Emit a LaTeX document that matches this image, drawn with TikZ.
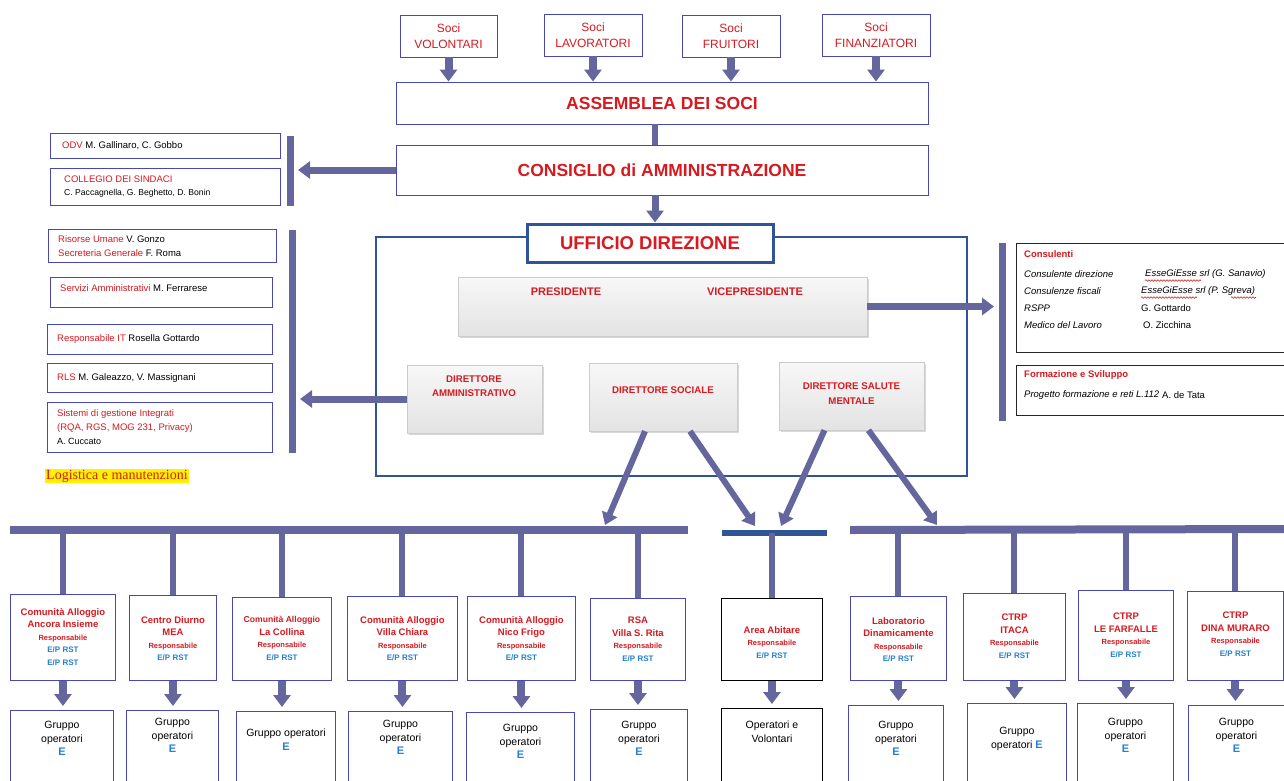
\documentclass[tikz,border=0pt]{standalone}
\usepackage{fontspec}
\setmainfont{Liberation Sans}
\newfontfamily\serifrm{Liberation Serif}
\usepackage{xcolor}
\usepackage{tikz}
\usetikzlibrary{positioning,arrows.meta,shadows,decorations.pathmorphing}

\definecolor{linkcol}{RGB}{102,102,158}
\definecolor{boxblue}{RGB}{72,72,178}
\definecolor{darkblue}{RGB}{47,85,151}
\definecolor{titlered}{RGB}{214,26,32}
\definecolor{textblue}{RGB}{38,128,206}
\newcommand{\fsz}[2]{\fontsize{#1}{#2}\selectfont}
\newcommand{\redtx}[1]{\textcolor{titlered}{#1}}
\newcommand{\respl}{{\fsz{7.5}{10}Responsabile}}
\newcommand{\eprst}{{\color{textblue}\fsz{8}{10}E/P RST}}
\newcommand{\bigE}{{\color{textblue}\bfseries\fsz{11}{12}E}}

\tikzset{
	socibox/.style={draw=boxblue, line width=0.9pt, fill=white, align=center, text=titlered, font=\fsz{12}{15.5}, minimum height=42, inner sep=1pt},
	mainbox/.style={draw=boxblue, line width=0.9pt, fill=white, text=titlered, font=\bfseries\fsz{17.5}{20}, minimum width=532},
	staffbox/.style={draw=boxblue, line width=0.9pt, fill=white, anchor=north west, inner sep=0pt},
	stafftext/.style={anchor=west, align=left, font=\fsz{9.5}{14}, inner sep=0pt},
	consbox/.style={draw=black!85, line width=0.9pt, fill=white, anchor=north west, inner sep=0pt},
	constext/.style={anchor=west, font=\itshape\fsz{9.5}{12}, inner sep=0pt},
	greybox/.style={draw=gray!40, top color=gray!6, bottom color=gray!22, drop shadow={shadow xshift=2pt, shadow yshift=-2pt, fill=gray!60}, inner sep=0pt},
	greytext/.style={text=titlered, font=\bfseries\fsz{9.7}{14.5}, align=center},
	unitbox/.style={draw=boxblue, line width=0.9pt, fill=white, anchor=north west, inner sep=0pt},
	unittext/.style={text=titlered, font=\bfseries\fsz{9.5}{12.5}, align=center, inner sep=0pt},
	optext/.style={font=\fsz{10.5}{13.5}, align=center, inner sep=0pt},
	linkbar/.style={draw=linkcol, line width=7pt},
	linkarrow/.style={linkbar, -{Triangle[length=12pt,width=17pt]}},
}

\begin{document}
\begin{tikzpicture}[x=1pt, y=-1pt]
	\useasboundingbox (0,0) rectangle (1284,780);
	\clip (0,0) rectangle (1284,780);
	
	% Soci
	\node[socibox, minimum width=97] (sv) at (448.5,36) {Soci\\VOLONTARI};
	\node[socibox, minimum width=98] (sl) at (593,35) {Soci\\LAVORATORI};
	\node[socibox, minimum width=98] (sf) at (731,36) {Soci\\FRUITORI};
	\node[socibox, minimum width=108] (sfi) at (876,35) {Soci\\FINANZIATORI};
	
	% Assemblea e consiglio
	\node[mainbox, minimum height=42] (ass) at (662,103) {ASSEMBLEA DEI SOCI};
	\node[mainbox, minimum height=50] (cda) at (662,170) {CONSIGLIO di AMMINISTRAZIONE};
	
	\draw[linkarrow, line width=8pt] (sv.south) -- (sv.south |- ass.north);
	\draw[linkarrow, line width=8pt] (sl.south) -- (sl.south |- ass.north);
	\draw[linkarrow, line width=8pt] (sf.south) -- (sf.south |- ass.north);
	\draw[linkarrow, line width=8pt] (sfi.south) -- (sfi.south |- ass.north);
	\draw[linkbar, line width=6pt] ([xshift=-7pt]ass.south) -- ([xshift=-7pt]cda.north);
	
	% Organi di controllo
	\node[staffbox, minimum width=230, minimum height=25] (odv) at (50,133) {};
	\node[stafftext, right=12pt of odv.west] (odvt) {\redtx{ODV} M. Gallinaro, C. Gobbo};
	\node[staffbox, minimum width=230, minimum height=37] (coll) at (50,168) {};
	\node[stafftext, font=\fsz{9.5}{13}, right=14pt of coll.west] (collt) {\redtx{COLLEGIO DEI SINDACI}\\{\fsz{8.6}{11}C. Paccagnella, G. Beghetto, D. Bonin}};
	\coordinate (b1t) at (290,136);
	\coordinate (b1b) at (290,206);
	\draw[linkbar] (b1t) -- (b1b);
	\draw[linkarrow] (cda.west) -- ([xshift=8pt]cda.west -| b1t);
	
	% Ufficio direzione
	\node[draw=darkblue, line width=2.5pt, minimum width=591, minimum height=239, inner sep=0pt] (uffarea) at (671.5,356.5) {};
	\node[draw=darkblue, line width=3pt, fill=white, minimum width=246, minimum height=38, text=titlered, font=\bfseries\fsz{18.5}{20}] (uff) at (650,243) {UFFICIO DIREZIONE};
	\draw[linkarrow] ([xshift=-7pt]cda.south) -- ([xshift=5pt]uff.north);
	
	\node[greybox, minimum width=409, minimum height=59] (pres) at (662.5,306.5) {};
	\node[greytext, font=\bfseries\fsz{11}{13}] (prest) at (566,292) {PRESIDENTE};
	\node[greytext, font=\bfseries\fsz{11}{13}] (vicet) at (755,292) {VICEPRESIDENTE};
	\node[greybox, minimum width=135, minimum height=68] (damm) at (474.5,399) {};
	\node[greytext] (dammt) at (474,386) {DIRETTORE\\AMMINISTRATIVO};
	\node[greybox, minimum width=148, minimum height=68] (dsoc) at (663,397) {};
	\node[greytext] (dsoct) at (663,390) {DIRETTORE SOCIALE};
	\node[greybox, minimum width=145, minimum height=68] (dsal) at (851.5,396) {};
	\node[greytext] (dsalt) at (851.5,393.5) {DIRETTORE SALUTE\\MENTALE};
	
	% Staff amministrativo
	\node[staffbox, minimum width=228, minimum height=33] (risu) at (48,229) {};
	\node[stafftext, right=10pt of risu.west] (risut) {\redtx{Risorse Umane} V. Gonzo\\\redtx{Secreteria Generale} F. Roma};
	\node[staffbox, minimum width=222, minimum height=30] (serv) at (50,277) {};
	\node[stafftext] (servt) at (60,288) {\redtx{Servizi Amministrativi} M. Ferrarese};
	\node[staffbox, minimum width=225, minimum height=30] (resit) at (47,324) {};
	\node[stafftext, right=10pt of resit.west] (resitt) {\redtx{Responsabile IT} Rosella Gottardo};
	\node[staffbox, minimum width=225, minimum height=29] (rls) at (47,363) {};
	\node[stafftext, right=10pt of rls.west] (rlst) {\redtx{RLS} M. Galeazzo, V. Massignani};
	\node[staffbox, minimum width=225, minimum height=50] (sist) at (47,402) {};
	\node[stafftext, right=10pt of sist.west] (sistt) {\redtx{Sistemi di gestione Integrati}\\\redtx{(RQA, RGS, MOG 231, Privacy)}\\{\fsz{9}{11}A. Cuccato}};
	\node[anchor=west, fill=yellow, text=titlered, font=\serifrm\fsz{14}{16}, inner sep=1pt] (logi) at (45,476) {Logistica e manutenzioni};
	\coordinate (b2t) at (292,230);
	\coordinate (b2b) at (292,453);
	\draw[linkbar] (b2t) -- (b2b);
	\draw[linkarrow] (damm.west) -- ([xshift=8pt]damm.west -| b2t);
	
	% Consulenti
	\node[consbox, minimum width=280, minimum height=109] (cons) at (1016,243) {};
	\node[constext, font=\bfseries\fsz{9.5}{12}, text=titlered] (const) at (1024,254) {Consulenti};
	\node[constext] (c1a) at (1024,274) {Consulente direzione};
	\node[constext] (c1b) at (1145,274) {EsseGiEsse srl (G. Sanavio)};
	\node[constext] (c2a) at (1024,291) {Consulenze fiscali};
	\node[constext] (c2b) at (1141,291) {EsseGiEsse srl (P. Sgreva)};
	\node[constext] (c3a) at (1024,308) {RSPP};
	\node[constext, font=\fsz{9.5}{12}] (c3b) at (1141,308) {G. Gottardo};
	\node[constext] (c4a) at (1024,325) {Medico del Lavoro};
	\node[constext, font=\fsz{9.5}{12}] (c4b) at (1143,325) {O. Zicchina};
	\draw[titlered, line width=0.6pt, decorate, decoration={snake, amplitude=0.8pt, segment length=3pt}] (1145,280.5) -- (1201,280.5);
	\draw[titlered, line width=0.6pt, decorate, decoration={snake, amplitude=0.8pt, segment length=3pt}] (1141,297.5) -- (1197,297.5);
	\draw[titlered, line width=0.6pt, decorate, decoration={snake, amplitude=0.8pt, segment length=3pt}] (1231,297.5) -- (1256,297.5);
	\node[consbox, minimum width=280, minimum height=50] (form) at (1016,365) {};
	\node[constext, font=\bfseries\fsz{9.5}{12}, text=titlered] (formt) at (1024,375) {Formazione e Sviluppo};
	\node[constext] (f1a) at (1024,395) {Progetto formazione e reti L.112};
	\node[constext, font=\fsz{9.5}{12}] (f1b) at (1162,395) {A. de Tata};
	\coordinate (b3t) at (1002,243);
	\coordinate (b3b) at (1002,421);
	\draw[linkbar] (b3t) -- (b3b);
	\draw[linkarrow] (pres.east) -- ([xshift=-8pt]pres.east -| b3t);
	
	% Barre dei servizi
	\coordinate (barL) at (10,530);
	\coordinate (barLe) at (688,530);
	\draw[linkbar, line width=8pt] (barL) -- (barLe);
	\coordinate (barM) at (722,533);
	\coordinate (barMe) at (827,533);
	\draw[linkbar, draw=darkblue, line width=6pt] (barM) -- (barMe);
	\coordinate (barR) at (850,530);
	\coordinate (barRe) at (1290,529);
	\draw[linkbar, line width=8pt] (barR) -- (barRe);
	
	\coordinate (tipA) at (605,525);
	\coordinate (tipB) at (755,526);
	\coordinate (tipC) at (781,526);
	\coordinate (tipD) at (937,525);
	\draw[linkarrow, line width=6pt, -{Triangle[length=12pt,width=16pt]}] ([xshift=-18pt]dsoc.south) -- (tipA);
	\draw[linkarrow, line width=6pt, -{Triangle[length=12pt,width=16pt]}] ([xshift=27pt]dsoc.south) -- (tipB);
	\draw[linkarrow, line width=6pt, -{Triangle[length=12pt,width=16pt]}] ([xshift=-27pt]dsal.south) -- (tipC);
	\draw[linkarrow, line width=6pt, -{Triangle[length=12pt,width=16pt]}] ([xshift=17pt]dsal.south) -- (tipD);
	
	% Servizi
	\node[unitbox, minimum width=105, minimum height=86] (ca1) at (10,594) {};
	\node[unittext, below=14pt of ca1.north] (ca1t) {Comunità Alloggio\\Ancora Insieme\\\respl\\\eprst\\\eprst};
	\node[unitbox, minimum width=87, minimum height=85] (cdm) at (129,595) {};
	\node[unittext, below=21pt of cdm.north] (cdmt) {Centro Diurno\\MEA\\\respl\\\eprst};
	\node[unitbox, minimum width=99, minimum height=83] (ca2) at (232,597) {};
	\node[unittext, font=\bfseries\fsz{8.6}{12.5}, below=19pt of ca2.north] (ca2t) {Comunità Alloggio\\{\fsz{9.5}{12}La Collina}\\\respl\\\eprst};
	\node[unitbox, minimum width=110, minimum height=84] (ca3) at (347,596) {};
	\node[unittext, below=20pt of ca3.north] (ca3t) {Comunità Alloggio\\Villa Chiara\\\respl\\\eprst};
	\node[unitbox, minimum width=108, minimum height=84] (ca4) at (467,596) {};
	\node[unittext, below=20pt of ca4.north] (ca4t) {Comunità Alloggio\\Nico Frigo\\\respl\\\eprst};
	\node[unitbox, minimum width=95, minimum height=82] (rsa) at (590,598) {};
	\node[unittext, below=19pt of rsa.north] (rsat) {RSA\\Villa S. Rita\\\respl\\\eprst};
	\node[unitbox, draw=black, minimum width=101, minimum height=82] (abit) at (721,598) {};
	\node[unittext, below=28pt of abit.north] (abitt) {Area Abitare\\\respl\\\eprst};
	\node[unitbox, minimum width=96, minimum height=84] (lab) at (850,596) {};
	\node[unittext, below=21pt of lab.north] (labt) {Laboratorio\\Dinamicamente\\\respl\\\eprst};
	\node[unitbox, minimum width=102, minimum height=87] (itaca) at (963,593) {};
	\node[unittext, below=21pt of itaca.north] (itacat) {CTRP\\ITACA\\\respl\\\eprst};
	\node[unitbox, minimum width=95, minimum height=90] (farf) at (1078,590) {};
	\node[unittext, below=23pt of farf.north] (farft) {CTRP\\LE FARFALLE\\\respl\\\eprst};
	\node[unitbox, minimum width=96, minimum height=89] (dina) at (1187,591) {};
	\node[unittext, below=21pt of dina.north] (dinat) {CTRP\\DINA MURARO\\\respl\\\eprst};
	
	\draw[linkbar, line width=6pt] (ca1.north |- barL) -- (ca1.north);
	\draw[linkbar, line width=6pt] (cdm.north |- barL) -- (cdm.north);
	\draw[linkbar, line width=6pt] (ca2.north |- barL) -- (ca2.north);
	\draw[linkbar, line width=6pt] (ca3.north |- barL) -- (ca3.north);
	\draw[linkbar, line width=6pt] (ca4.north |- barL) -- (ca4.north);
	\draw[linkbar, line width=6pt] (rsa.north |- barL) -- (rsa.north);
	\draw[linkbar, line width=6pt] (abit.north |- barM) -- (abit.north);
	\draw[linkbar, line width=6pt] (lab.north |- barR) -- (lab.north);
	\draw[linkbar, line width=6pt] (itaca.north |- barR) -- (itaca.north);
	\draw[linkbar, line width=6pt] (farf.north |- barR) -- (farf.north);
	\draw[linkbar, line width=6pt] (dina.north |- barR) -- (dina.north);
	
	% Gruppi operatori
	\node[unitbox, minimum width=103, minimum height=80] (g1) at (10,710) {};
	\node[optext, below=11pt of g1.north] (g1t) {Gruppo\\operatori\\\bigE};
	\node[unitbox, minimum width=92, minimum height=80] (g2) at (126,710) {};
	\node[optext, below=8pt of g2.north] (g2t) {Gruppo\\operatori\\\bigE};
	\node[unitbox, minimum width=99, minimum height=80] (g3) at (236,711) {};
	\node[optext, below=18pt of g3.north] (g3t) {Gruppo operatori\\\bigE};
	\node[unitbox, minimum width=104, minimum height=80] (g4) at (348,711) {};
	\node[optext, below=9pt of g4.north] (g4t) {Gruppo\\operatori\\\bigE};
	\node[unitbox, minimum width=108, minimum height=80] (g5) at (466,712) {};
	\node[optext, below=12pt of g5.north] (g5t) {Gruppo\\operatori\\\bigE};
	\node[unitbox, minimum width=97, minimum height=80] (g6) at (590,709) {};
	\node[optext, below=12pt of g6.north] (g6t) {Gruppo\\operatori\\\bigE};
	\node[unitbox, draw=black, minimum width=101, minimum height=80] (g7) at (721,708) {};
	\node[optext, below=13pt of g7.north] (g7t) {Operatori e\\Volontari};
	\node[unitbox, minimum width=95, minimum height=85] (g8) at (848,705) {};
	\node[optext, below=16pt of g8.north] (g8t) {Gruppo\\operatori\\\bigE};
	\node[unitbox, minimum width=99, minimum height=85] (g9) at (967,703) {};
	\node[optext, below=24pt of g9.north] (g9t) {Gruppo\\operatori \bigE};
	\node[unitbox, minimum width=96, minimum height=85] (g10) at (1077,703) {};
	\node[optext, below=15pt of g10.north] (g10t) {Gruppo\\operatori\\\bigE};
	\node[unitbox, minimum width=96, minimum height=85] (g11) at (1188,705) {};
	\node[optext, below=13pt of g11.north] (g11t) {Gruppo\\operatori\\\bigE};
	
	\draw[linkarrow, line width=8pt, shorten >=4pt] (ca1.south) -- (ca1.south |- g1.north);
	\draw[linkarrow, line width=8pt, shorten >=4pt] (cdm.south) -- (cdm.south |- g2.north);
	\draw[linkarrow, line width=8pt, shorten >=4pt] (ca2.south) -- (ca2.south |- g3.north);
	\draw[linkarrow, line width=8pt, shorten >=4pt] (ca3.south) -- (ca3.south |- g4.north);
	\draw[linkarrow, line width=8pt, shorten >=4pt] (ca4.south) -- (ca4.south |- g5.north);
	\draw[linkarrow, line width=8pt, shorten >=4pt] (rsa.south) -- (rsa.south |- g6.north);
	\draw[linkarrow, line width=8pt, shorten >=4pt] (abit.south) -- (abit.south |- g7.north);
	\draw[linkarrow, line width=8pt, shorten >=4pt] (lab.south) -- (lab.south |- g8.north);
	\draw[linkarrow, line width=8pt, shorten >=4pt] (itaca.south) -- (itaca.south |- g9.north);
	\draw[linkarrow, line width=8pt, shorten >=4pt] (farf.south) -- (farf.south |- g10.north);
	\draw[linkarrow, line width=8pt, shorten >=4pt] (dina.south) -- (dina.south |- g11.north);
	
\end{tikzpicture}
\end{document}
